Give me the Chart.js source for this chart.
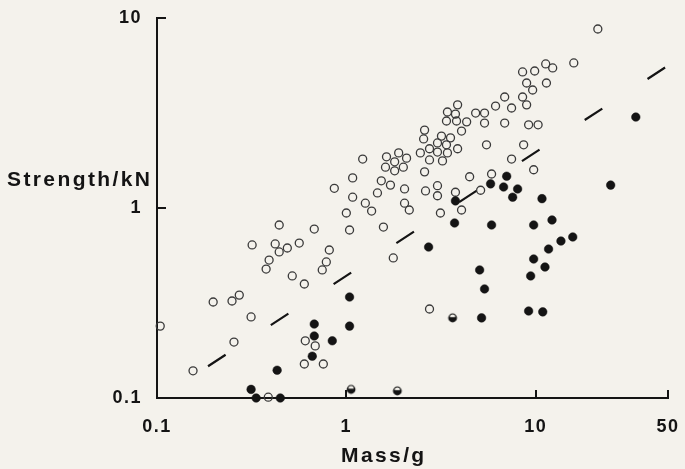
<!DOCTYPE html>
<html>
<head>
<meta charset="utf-8">
<title>Strength vs mass</title>
<script src="https://cdn.jsdelivr.net/npm/chart.js@4.4.1/dist/chart.umd.min.js"></script>
<style>
  html, body { margin: 0; padding: 0; background: #f4f2ec; }
  canvas { display: block; }
</style>
</head>
<body>
<canvas id="strength_mass" width="685" height="469"></canvas>
<script>
// values (mass in g, strength in kN)
const openMass = [
  0.104, 0.155, 0.198, 0.249, 0.272, 0.314, 0.255, 0.318, 0.442, 0.677,
  0.387, 0.607, 0.600, 0.756, 0.685, 0.421, 0.442, 0.488, 0.564, 0.391,
  0.377, 0.518, 0.600, 0.813, 0.784, 0.746, 1.77, 2.75, 1.04, 1.57,
  1.00, 0.864, 1.08, 1.08, 1.26, 1.36, 1.46, 1.53, 1.71, 2.03,
  2.03, 2.15, 1.22, 1.61, 1.80, 2.00, 1.63, 1.89, 2.08, 1.80,
  2.46, 2.75, 2.59, 2.62, 3.03, 3.03, 3.14, 3.77, 2.59, 2.56,
  2.75, 3.03, 3.18, 3.55, 3.03, 3.38, 3.42, 3.22, 3.87, 3.42,
  3.77, 3.87, 3.38, 3.82, 4.06, 4.32, 4.82, 5.37, 5.37, 6.14,
  6.86, 7.46, 6.86, 8.53, 9.88, 11.3, 12.3, 15.9, 21.3, 8.96,
  9.64, 11.4, 8.53, 8.96, 9.18, 10.3, 5.50, 8.64, 7.46, 9.76,
  5.85, 4.48, 5.12, 4.06
];
const openStrength = [
  0.239, 0.139, 0.320, 0.324, 0.348, 0.267, 0.197, 0.639, 0.814, 0.775,
  0.101, 0.200, 0.151, 0.151, 0.188, 0.647, 0.587, 0.616, 0.654, 0.532,
  0.477, 0.439, 0.398, 0.601, 0.520, 0.472, 0.546, 0.294, 0.766, 0.794,
  0.941, 1.27, 1.44, 1.14, 1.06, 0.964, 1.20, 1.39, 1.32, 1.26,
  1.06, 0.976, 1.81, 1.64, 1.57, 1.64, 1.86, 1.95, 1.83, 1.75,
  1.95, 1.79, 1.55, 1.23, 1.31, 1.16, 0.941, 1.21, 2.57, 2.31,
  2.05, 2.20, 2.39, 2.34, 1.97, 2.15, 1.95, 1.77, 2.05, 3.20,
  3.12, 3.49, 2.87, 2.87, 2.54, 2.84, 3.16, 3.16, 2.80, 3.44,
  3.84, 3.36, 2.80, 5.20, 5.26, 5.73, 5.46, 5.80, 8.75, 4.55,
  4.18, 4.55, 3.84, 3.49, 2.74, 2.74, 2.15, 2.15, 1.81, 1.59,
  1.51, 1.46, 1.24, 0.976
];

const filledMass = [
  0.314, 0.334, 0.448, 0.431, 0.677, 0.677, 0.661, 0.843, 1.04, 1.04,
  2.72, 3.73, 3.77, 5.06, 5.37, 5.18, 5.78, 5.85, 6.77, 7.03,
  7.56, 8.03, 10.8, 9.76, 12.2, 13.6, 15.7, 11.7, 9.76, 11.2,
  9.41, 9.18, 10.9, 24.9, 33.8
];
const filledStrength = [
  0.111, 0.100, 0.100, 0.140, 0.245, 0.212, 0.166, 0.200, 0.340, 0.239,
  0.623, 0.834, 1.09, 0.472, 0.375, 0.264, 1.34, 0.814, 1.29, 1.47,
  1.14, 1.26, 1.12, 0.814, 0.865, 0.670, 0.704, 0.608, 0.539, 0.489,
  0.439, 0.287, 0.284, 1.32, 3.01
];

// the three half-inked circles
const halfMass = [3.64, 1.06, 1.86];
const halfStrength = [0.264, 0.111, 0.109];

// dashed trend line, end points
const lineMass = [0.186, 48.7];
const lineStrength = [0.147, 5.52];

const massTicks = [0.1, 1, 10, 50];
const massTickLabels = ['0.1', '1', '10', '50'];
const strengthTicks = [0.1, 1, 10];
const strengthTickLabels = ['0.1', '1', '10'];

const xTitle = 'Mass/g';
const yTitle = 'Strength/kN';

const ink = '#141414';
const tickFont = { family: '"Liberation Sans", Arial, sans-serif', size: 18, weight: 'bold' };

function toPoints(xs, ys) {
  return xs.map((x, i) => ({ x: x, y: ys[i] }));
}

// small canvas used as point style for the half inked circles
function halfDot() {
  const c = document.createElement('canvas');
  c.width = 12;
  c.height = 12;
  const g = c.getContext('2d');
  g.fillStyle = ink;
  g.beginPath();
  g.arc(6, 6, 4.4, 0, Math.PI * 2);
  g.fill();
  g.fillStyle = '#f4f2ec';
  g.beginPath();
  g.arc(6, 5.2, 2.7, Math.PI, Math.PI * 2);
  g.fill();
  return c;
}

// tick label padding should not push the plot area in
function noScalePadding(scale) {
  scale.paddingTop = 0;
  scale.paddingBottom = 0;
  scale.paddingLeft = 0;
  scale.paddingRight = 0;
}

const titlesPlugin = {
  id: 'titlesPlugin',
  beforeDraw(chart) {
    chart.ctx.letterSpacing = '1.5px';
  },
  afterDraw(chart) {
    const ctx = chart.ctx;
    ctx.save();
    ctx.fillStyle = ink;
    ctx.font = 'bold 21px "Liberation Sans", Arial, sans-serif';
    ctx.letterSpacing = '2.4px';
    ctx.textAlign = 'left';
    ctx.textBaseline = 'alphabetic';
    ctx.fillText(yTitle, 7, 186);
    ctx.fillText(xTitle, 341, 462);
    ctx.restore();
  }
};

const ctx = document.getElementById('strength_mass');
const myChart = new Chart(ctx, {
  type: 'scatter',
  data: {
    datasets: [
      {
        label: 'filled',
        data: toPoints(filledMass, filledStrength),
        pointStyle: 'circle',
        pointRadius: 4.3,
        backgroundColor: ink,
        borderColor: ink,
        borderWidth: 0.5,
        clip: false
      },
      {
        label: 'half',
        data: toPoints(halfMass, halfStrength),
        pointStyle: halfDot(),
        clip: false
      },
      {
        label: 'open',
        data: toPoints(openMass, openStrength),
        pointStyle: 'circle',
        pointRadius: 4,
        backgroundColor: 'rgba(0,0,0,0)',
        borderColor: '#3a3a3a',
        borderWidth: 1.3,
        clip: false
      },
      {
        label: 'trend',
        type: 'line',
        data: toPoints(lineMass, lineStrength),
        showLine: true,
        borderColor: ink,
        borderWidth: 2.2,
        borderDash: [21, 54],
        pointRadius: 0,
        fill: false
      }
    ]
  },
  options: {
    responsive: false,
    animation: false,
    layout: {
      padding: { left: 0, top: 18, right: 17, bottom: 0 }
    },
    plugins: {
      legend: { display: false },
      tooltip: { enabled: false }
    },
    scales: {
      x: {
        type: 'logarithmic',
        min: 0.1,
        max: 50,
        afterBuildTicks: (scale) => {
          scale.ticks = massTicks.map(v => ({ value: v }));
        },
        afterFit: (scale) => {
          scale.height = 71;
          noScalePadding(scale);
        },
        ticks: {
          autoSkip: false,
          maxRotation: 0,
          padding: 26,
          color: ink,
          font: tickFont,
          callback: (value, index) => massTickLabels[index]
        },
        grid: {
          drawOnChartArea: false,
          drawTicks: true,
          tickLength: -8,
          color: ink,
          lineWidth: 2
        },
        border: { display: true, color: ink, width: 2 }
      },
      y: {
        type: 'logarithmic',
        min: 0.1,
        max: 10,
        afterBuildTicks: (scale) => {
          scale.ticks = strengthTicks.map(v => ({ value: v }));
        },
        afterFit: (scale) => {
          scale.width = 157;
          noScalePadding(scale);
        },
        ticks: {
          autoSkip: false,
          padding: 24,
          color: ink,
          font: tickFont,
          callback: (value, index) => strengthTickLabels[index]
        },
        grid: {
          drawOnChartArea: false,
          drawTicks: true,
          tickLength: -9,
          color: ink,
          lineWidth: 2
        },
        border: { display: true, color: ink, width: 2 }
      }
    }
  },
  plugins: [titlesPlugin]
});
</script>
</body>
</html>
